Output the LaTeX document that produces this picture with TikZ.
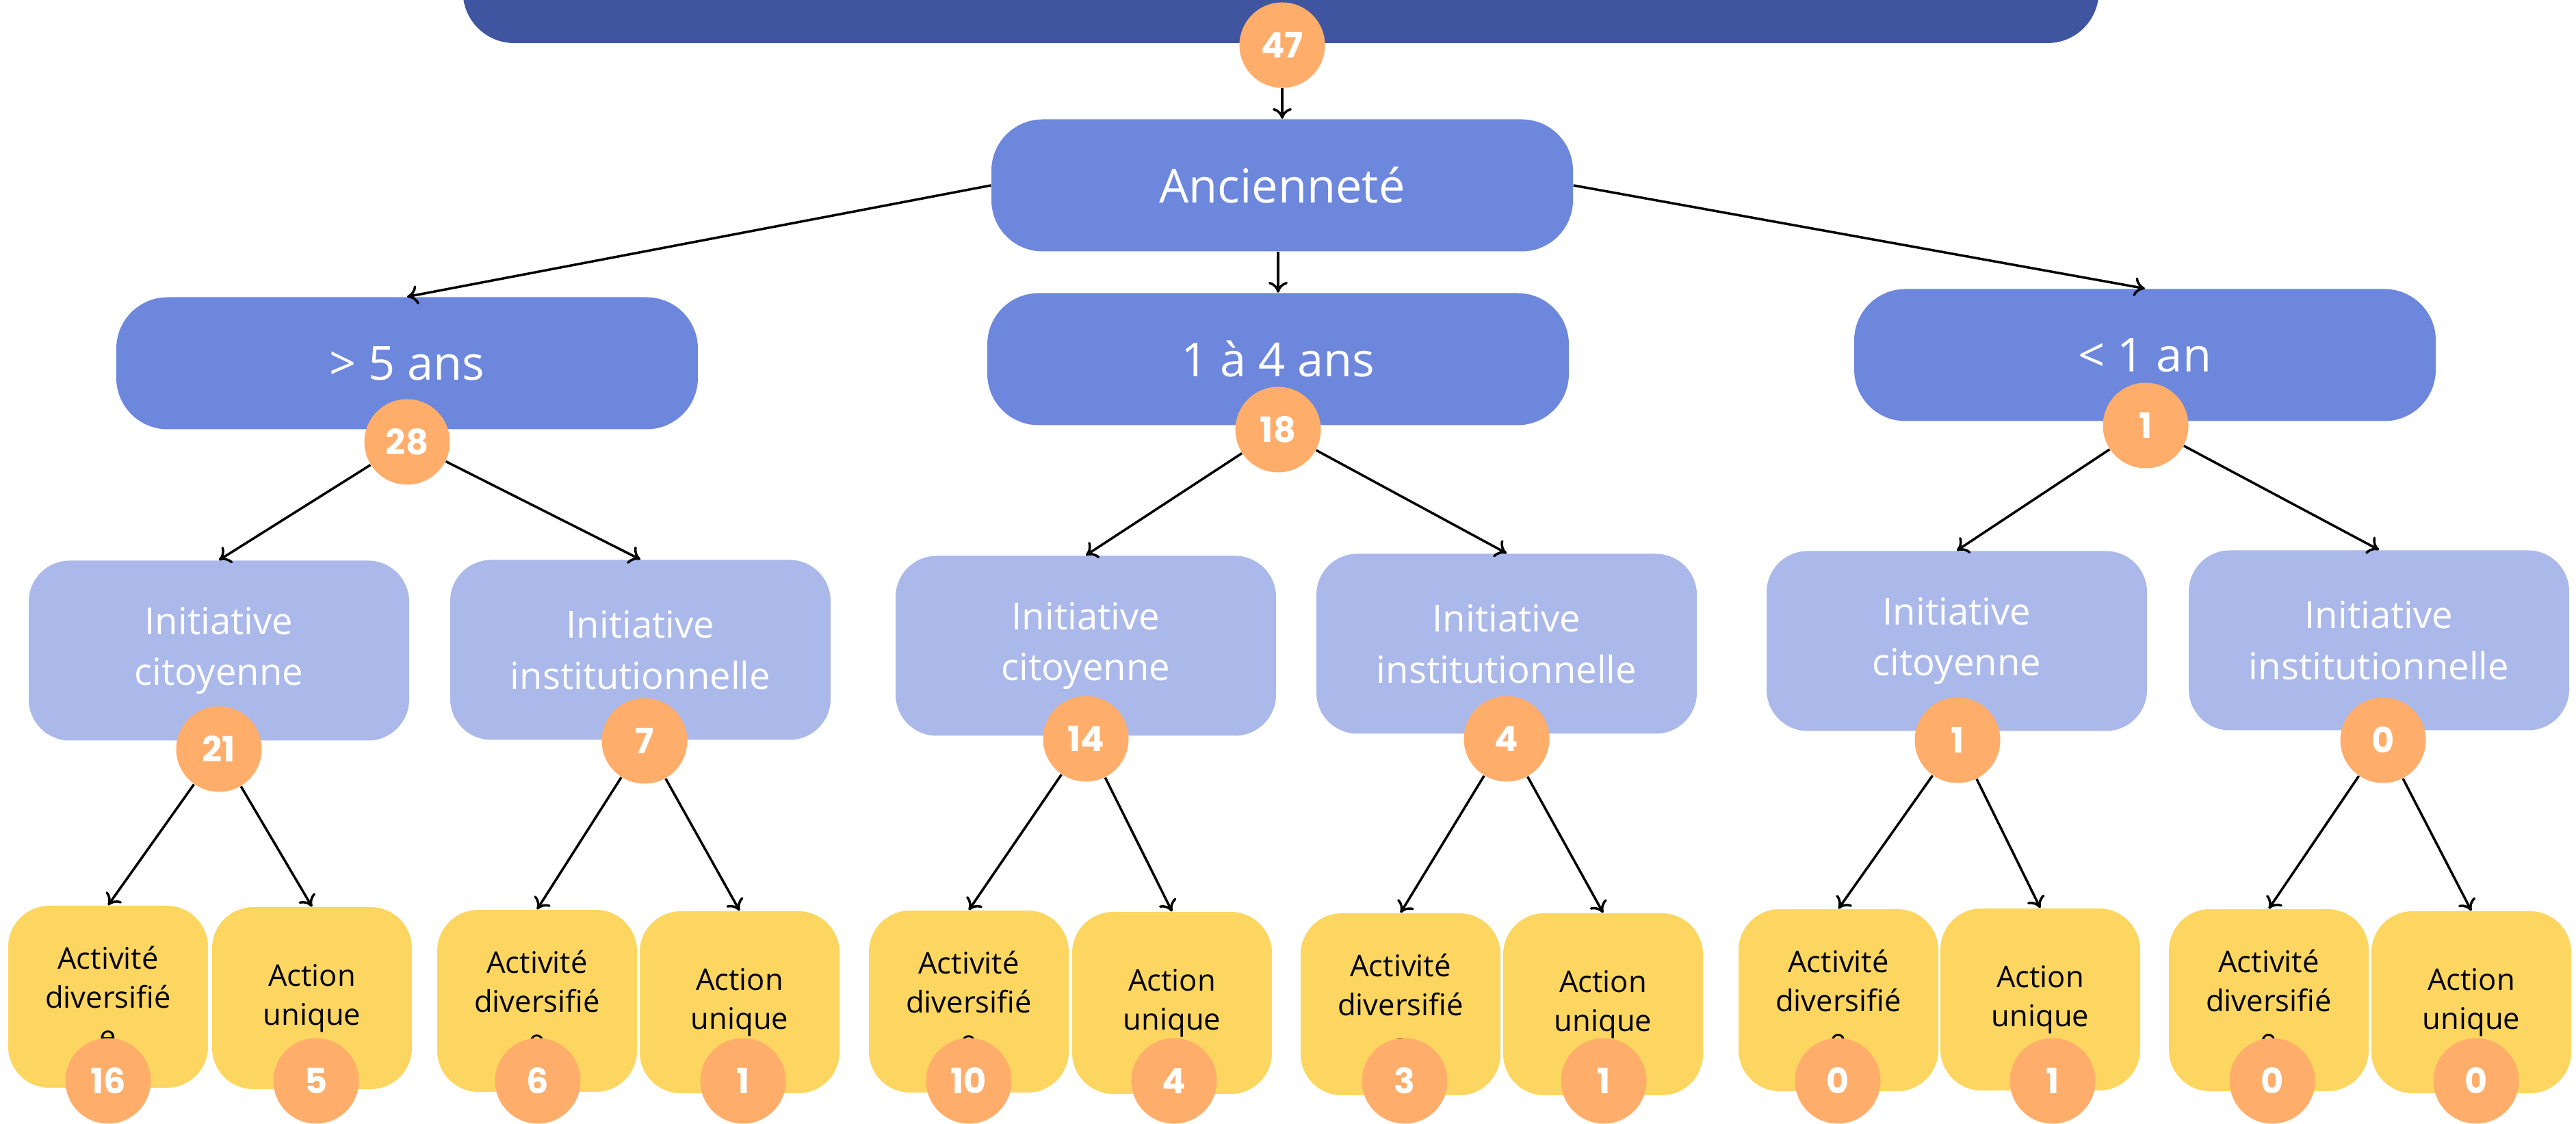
\documentclass[tikz,border=0pt]{standalone}
\usepackage{fontspec}
\setmainfont{Open Sans}
\newfontfamily\chiffres{Poppins}
\usetikzlibrary{arrows.meta}
\definecolor{bleufonce}{HTML}{3F55A0}
\definecolor{bleu}{HTML}{6D87DD}
\definecolor{lavande}{HTML}{ABB9EA}
\definecolor{jaune}{HTML}{FCD660}
\definecolor{pastille}{HTML}{FEAD6A}
\tikzset{
	titre/.style={rectangle, rounded corners=0.75cm, fill=bleufonce, minimum width=23.91cm, minimum height=2cm},
	niveau/.style={rectangle, rounded corners=0.75cm, fill=bleu, text=white, minimum width=8.5cm, minimum height=1.93cm, font=\fontsize{19.5}{23}\selectfont},
	critere/.style={rectangle, rounded corners=0.6cm, fill=lavande, text=white, align=center, minimum width=5.56cm, minimum height=2.63cm, font=\fontsize{15.5}{21.3}\selectfont},
	issue/.style={rectangle, rounded corners=0.6cm, fill=jaune, text=black, align=center, minimum width=2.92cm, minimum height=2.66cm, font=\fontsize{12.4}{16.2}\selectfont},
	badge/.style={circle, fill=pastille, text=white, inner sep=0pt, minimum size=1.25cm, font=\chiffres\bfseries\fontsize{14.5}{16}\selectfont},
	fleche/.style={-{To[length=4.5pt,width=8pt]}, line width=1pt}
}

\begin{document}
\begin{tikzpicture}
	%%%%% START %%%%%
	\useasboundingbox (0,0) rectangle (37.65,16.43);
	\clip (0,0) rectangle (37.65,16.43);
	
	\node[titre] (titre) at (18.72, 16.80) {};
	\node[niveau] (ancien) at (18.74, 13.72) {Ancienneté};
	
	\node[niveau] (ans5) at (5.95, 11.12) {> 5 ans};
	\node[niveau] (ans14) at (18.68, 11.18) {1 à 4 ans};
	\node[niveau] (an1) at (31.35, 11.24) {< 1 an};
	
	\node[critere] (cit5) at (3.20, 6.92) {Initiative\\citoyenne};
	\node[critere] (inst5) at (9.36, 6.93) {Initiative\\institutionnelle};
	\node[critere] (cit14) at (15.87, 6.99) {Initiative\\citoyenne};
	\node[critere] (inst14) at (22.02, 7.02) {Initiative\\institutionnelle};
	\node[critere] (cit1) at (28.60, 7.06) {Initiative\\citoyenne};
	\node[critere] (inst1) at (34.77, 7.07) {Initiative\\institutionnelle};
	
	\node[issue] (divA) at (1.58, 1.86) {Activité\\diversifié\\e};
	\node[issue] (uniA) at (4.56, 1.84) {Action\\unique};
	\node[issue] (divB) at (7.85, 1.80) {Activité\\diversifié\\e};
	\node[issue] (uniB) at (10.81, 1.78) {Action\\unique};
	\node[issue] (divC) at (14.16, 1.79) {Activité\\diversifié\\e};
	\node[issue] (uniC) at (17.13, 1.77) {Action\\unique};
	\node[issue] (divD) at (20.47, 1.75) {Activité\\diversifié\\e};
	\node[issue] (uniD) at (23.43, 1.75) {Action\\unique};
	\node[issue] (divE) at (26.87, 1.81) {Activité\\diversifié\\e};
	\node[issue] (uniE) at (29.82, 1.82) {Action\\unique};
	\node[issue] (divF) at (33.16, 1.81) {Activité\\diversifié\\e};
	\node[issue] (uniF) at (36.12, 1.78) {Action\\unique};
	
	% pastilles
	\node[badge] (b47) at (18.74, 15.77) {47};
	\node[badge] (b28) at (5.95, 9.97) {28};
	\node[badge] (b18) at (18.68, 10.15) {18};
	\node[badge] (b1) at (31.36, 10.21) {1};
	
	\node[badge] (b21) at (3.20, 5.48) {21};
	\node[badge] (b7) at (9.42, 5.60) {7};
	\node[badge] (b14) at (15.87, 5.63) {14};
	\node[badge] (b4) at (22.02, 5.63) {4};
	\node[badge] (b1c) at (28.61, 5.61) {1};
	\node[badge] (b0i) at (34.83, 5.61) {0};
	
	\node[badge] (b16) at (1.58, 0.63) {16};
	\node[badge] (b5) at (4.62, 0.63) {5};
	\node[badge] (b6) at (7.86, 0.63) {6};
	\node[badge] (b1b) at (10.86, 0.63) {1};
	\node[badge] (b10) at (14.16, 0.63) {10};
	\node[badge] (b4c) at (17.16, 0.63) {4};
	\node[badge] (b3) at (20.53, 0.63) {3};
	\node[badge] (b1d) at (23.44, 0.63) {1};
	\node[badge] (b0a) at (26.86, 0.63) {0};
	\node[badge] (b1e) at (30.00, 0.63) {1};
	\node[badge] (b0b) at (33.21, 0.63) {0};
	\node[badge] (b0c) at (36.19, 0.63) {0};
	
	% fleches
	\draw[fleche] (b47) -- (ancien.north);
	\draw[fleche] (ancien.west) -- (ans5.north);
	\draw[fleche] (ancien.south -| ans14.north) -- (ans14.north);
	\draw[fleche] (ancien.east) -- (an1.north);
	
	\draw[fleche] (b28) -- (cit5.north);
	\draw[fleche] (b28) -- (inst5.north);
	\draw[fleche] (b18) -- (cit14.north);
	\draw[fleche] (b18) -- (inst14.north);
	\draw[fleche] (b1) -- (cit1.north);
	\draw[fleche] (b1) -- (inst1.north);
	
	\draw[fleche] (b21) -- (divA.north);
	\draw[fleche] (b21) -- (uniA.north);
	\draw[fleche] (b7) -- (divB.north);
	\draw[fleche] (b7) -- (uniB.north);
	\draw[fleche] (b14) -- (divC.north);
	\draw[fleche] (b14) -- (uniC.north);
	\draw[fleche] (b4) -- (divD.north);
	\draw[fleche] (b4) -- (uniD.north);
	\draw[fleche] (b1c) -- (divE.north);
	\draw[fleche] (b1c) -- (uniE.north);
	\draw[fleche] (b0i) -- (divF.north);
	\draw[fleche] (b0i) -- (uniF.north);
	
	%%%%% END %%%%%
\end{tikzpicture}
\end{document}
